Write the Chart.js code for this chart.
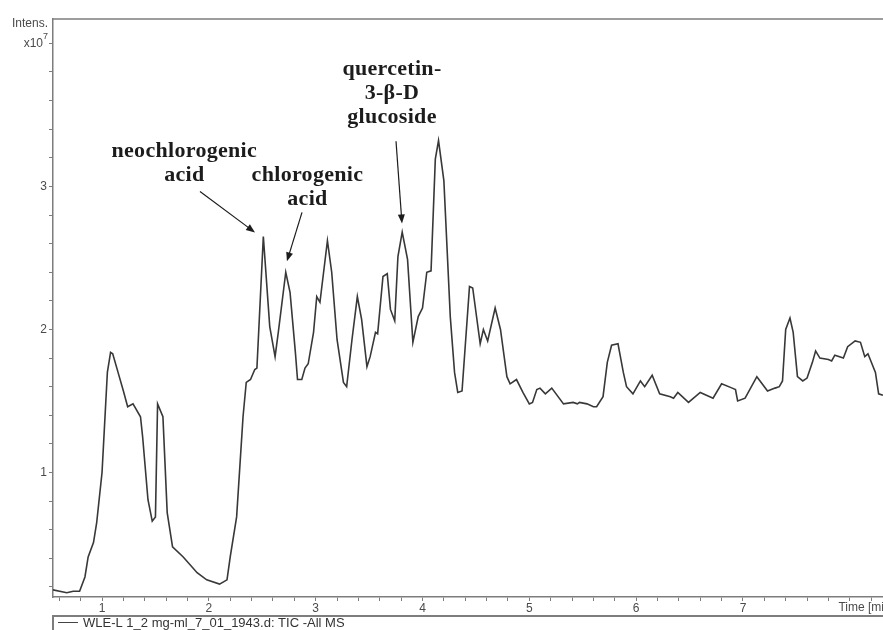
<!DOCTYPE html>
<html>
<head>
<meta charset="utf-8">
<title>TIC - All MS</title>
<script src="https://cdn.jsdelivr.net/npm/chart.js@4.4.1/dist/chart.umd.min.js"></script>
<style>
  html, body { margin: 0; padding: 0; background: #fff; overflow: hidden; }
  #wrap { width: 905px; height: 630px; }
</style>
</head>
<body>
<div id="wrap"><canvas id="tic" width="905" height="630"></canvas></div>
<script>
// ── TIC chromatogram, WLE-L 1.2 mg/ml ──

// retention time (min)
const timeMin = [
  0.54, 0.67, 0.73, 0.79, 0.84, 0.87, 0.92, 0.95, 1.00, 1.05,
  1.08, 1.10, 1.15, 1.20, 1.24, 1.29, 1.36, 1.38, 1.43, 1.47,
  1.50, 1.52, 1.57, 1.61, 1.66, 1.76, 1.89, 1.98, 2.10, 2.17,
  2.20, 2.26, 2.32, 2.35, 2.39, 2.43, 2.45, 2.51, 2.57, 2.62,
  2.65, 2.72, 2.76, 2.81, 2.83, 2.87, 2.90, 2.93, 2.98, 3.01,
  3.04, 3.11, 3.15, 3.20, 3.26, 3.29, 3.34, 3.39, 3.43, 3.48,
  3.51, 3.56, 3.58, 3.63, 3.67, 3.70, 3.74, 3.77, 3.81, 3.86,
  3.91, 3.96, 4.00, 4.04, 4.08, 4.12, 4.15, 4.20, 4.26, 4.30,
  4.33, 4.37, 4.44, 4.47, 4.54, 4.57, 4.61, 4.68, 4.73, 4.79,
  4.82, 4.88, 4.94, 5.00, 5.03, 5.07, 5.10, 5.15, 5.21, 5.32,
  5.41, 5.45, 5.47, 5.54, 5.60, 5.63, 5.69, 5.73, 5.77, 5.83,
  5.88, 5.91, 5.97, 6.04, 6.08, 6.15, 6.22, 6.32, 6.35, 6.39,
  6.49, 6.60, 6.72, 6.80, 6.90, 6.93, 6.95, 7.02, 7.13, 7.23,
  7.30, 7.34, 7.37, 7.40, 7.44, 7.47, 7.51, 7.56, 7.60, 7.65,
  7.68, 7.72, 7.80, 7.83, 7.86, 7.94, 7.98, 8.05, 8.10, 8.14,
  8.17, 8.24, 8.27, 8.31
];

// intensity (x10^7)
const intensity = [
  0.18, 0.16, 0.17, 0.17, 0.27, 0.41, 0.51, 0.65, 1.00, 1.70,
  1.84, 1.83, 1.70, 1.57, 1.46, 1.48, 1.39, 1.25, 0.81, 0.66,
  0.69, 1.48, 1.39, 0.72, 0.48, 0.41, 0.30, 0.25, 0.22, 0.25,
  0.41, 0.69, 1.39, 1.63, 1.65, 1.72, 1.73, 2.65, 2.02, 1.81,
  1.98, 2.40, 2.26, 1.84, 1.65, 1.65, 1.73, 1.76, 1.98, 2.23,
  2.19, 2.62, 2.40, 1.93, 1.63, 1.60, 1.93, 2.23, 2.07, 1.74,
  1.81, 1.98, 1.97, 2.37, 2.39, 2.14, 2.06, 2.51, 2.68, 2.49,
  1.91, 2.09, 2.15, 2.40, 2.41, 3.19, 3.32, 3.04, 2.09, 1.70,
  1.56, 1.57, 2.30, 2.29, 1.90, 2.00, 1.92, 2.15, 2.00, 1.67,
  1.62, 1.65, 1.56, 1.48, 1.49, 1.58, 1.59, 1.55, 1.59, 1.48,
  1.49, 1.48, 1.49, 1.48, 1.46, 1.46, 1.53, 1.77, 1.89, 1.90,
  1.70, 1.60, 1.55, 1.64, 1.60, 1.68, 1.55, 1.53, 1.52, 1.56,
  1.49, 1.56, 1.52, 1.62, 1.59, 1.58, 1.50, 1.52, 1.67, 1.57,
  1.59, 1.60, 1.64, 2.00, 2.08, 1.98, 1.67, 1.64, 1.66, 1.77,
  1.85, 1.80, 1.79, 1.78, 1.82, 1.80, 1.88, 1.92, 1.91, 1.81,
  1.83, 1.70, 1.55, 1.54
];

const traceName = 'WLE-L 1_2 mg-ml_7_01_1943.d: TIC -All MS';
const xTickLabels = [1, 2, 3, 4, 5, 6, 7];   // 8 is left out, "Time [min]" sits there
const yTickLabels = [1, 2, 3];               // 4 is replaced by the x10^7 unit

// peak labels (text centre / arrow ends in min, x10^7)
const peakNotes = [
  { lines: ['neochlorogenic', 'acid'],          at: [1.77, 3.245], from: [1.917, 2.965], to: [2.432, 2.678] },
  { lines: ['chlorogenic', 'acid'],             at: [2.923, 3.077], from: [2.872, 2.818], to: [2.731, 2.476] },
  { lines: ['quercetin-', '3-β-D', 'glucoside'], at: [3.714, 3.818], from: [3.752, 3.315], to: [3.808, 2.741] }
];

const GREY = '#7d7d7d';
const TXT = '#4a4a4a';

Chart.defaults.font.family = '"Liberation Sans", Arial, sans-serif';

const isWhole = (v, list) => list.some(n => Math.abs(v - n) < 1e-6);

// frame, unit labels, legend box and peak notes
const decor = {
  id: 'decor',
  beforeDatasetsDraw(chart) {
    const { ctx, chartArea: a } = chart;
    ctx.save();
    ctx.strokeStyle = GREY;
    ctx.lineWidth = 1.5;
    ctx.beginPath();
    ctx.moveTo(a.left, a.top);
    ctx.lineTo(a.right, a.top);
    ctx.lineTo(a.right, a.bottom);
    ctx.stroke();
    ctx.restore();
  },
  afterDraw(chart) {
    const { ctx, chartArea: a, scales: { x, y } } = chart;
    ctx.save();

    // unit on the y axis
    ctx.fillStyle = TXT;
    ctx.textBaseline = 'middle';
    ctx.textAlign = 'right';
    ctx.font = '12px "Liberation Sans", Arial, sans-serif';
    ctx.fillText('Intens.', a.left - 5, 24);
    const y4 = y.getPixelForValue(4);
    ctx.fillText('x10', a.left - 10, y4);
    ctx.textAlign = 'left';
    ctx.font = '9px "Liberation Sans", Arial, sans-serif';
    ctx.fillText('7', a.left - 10, y4 - 7);

    // time label at the end of the x axis
    ctx.font = '12px "Liberation Sans", Arial, sans-serif';
    ctx.textAlign = 'right';
    ctx.fillText('Time [min]', a.right - 6, a.bottom + 11);

    // legend box
    ctx.strokeStyle = GREY;
    ctx.lineWidth = 2;
    ctx.strokeRect(a.left, 616, chart.width, 30);
    ctx.strokeStyle = '#444';
    ctx.lineWidth = 1;
    ctx.beginPath();
    ctx.moveTo(a.left + 5, 622.5);
    ctx.lineTo(a.left + 25, 622.5);
    ctx.stroke();
    ctx.fillStyle = '#333';
    ctx.textAlign = 'left';
    ctx.textBaseline = 'alphabetic';
    ctx.font = '13px "Liberation Sans", Arial, sans-serif';
    ctx.fillText(traceName, a.left + 30, 627);

    // peak notes
    ctx.fillStyle = '#1c1c1c';
    ctx.strokeStyle = '#1c1c1c';
    ctx.textAlign = 'center';
    ctx.textBaseline = 'middle';
    ctx.font = 'bold 22px "Liberation Serif", "Times New Roman", serif';
    ctx.letterSpacing = '0.3px';
    peakNotes.forEach(n => {
      const cx = x.getPixelForValue(n.at[0]);
      const cy = y.getPixelForValue(n.at[1]);
      n.lines.forEach((s, i) => ctx.fillText(s, cx, cy + i * 24));

      const x0 = x.getPixelForValue(n.from[0]), y0 = y.getPixelForValue(n.from[1]);
      const x1 = x.getPixelForValue(n.to[0]), y1 = y.getPixelForValue(n.to[1]);
      const ang = Math.atan2(y1 - y0, x1 - x0);
      ctx.lineWidth = 1.2;
      ctx.beginPath();
      ctx.moveTo(x0, y0);
      ctx.lineTo(x1 - 6 * Math.cos(ang), y1 - 6 * Math.sin(ang));
      ctx.stroke();
      ctx.beginPath();
      ctx.moveTo(x1, y1);
      ctx.lineTo(x1 - 9 * Math.cos(ang) + 3.5 * Math.sin(ang), y1 - 9 * Math.sin(ang) - 3.5 * Math.cos(ang));
      ctx.lineTo(x1 - 9 * Math.cos(ang) - 3.5 * Math.sin(ang), y1 - 9 * Math.sin(ang) + 3.5 * Math.cos(ang));
      ctx.closePath();
      ctx.fill();
    });
    ctx.restore();
  }
};

new Chart(document.getElementById('tic'), {
  type: 'line',
  data: {
    datasets: [{
      label: traceName,
      data: timeMin.map((t, i) => ({ x: t, y: intensity[i] })),
      borderColor: '#383838',
      borderWidth: 1.6,
      pointRadius: 0,
      tension: 0,
      fill: false
    }]
  },
  options: {
    responsive: false,
    animation: false,
    layout: { padding: { left: 0, top: 19, right: 5, bottom: 15 } },
    plugins: { legend: { display: false }, tooltip: { enabled: false } },
    scales: {
      x: {
        type: 'linear',
        min: 0.541,
        max: 8.47,
        afterFit: s => { s.height = 18; },
        border: { color: GREY, width: 1.5 },
        grid: { drawOnChartArea: false, drawTicks: true, tickLength: 4, color: GREY },
        ticks: {
          stepSize: 0.2,
          includeBounds: false,
          autoSkip: false,
          maxRotation: 0,
          padding: 0,
          color: TXT,
          font: { size: 12 },
          callback: v => isWhole(v, xTickLabels) ? String(Math.round(v)) : ''
        }
      },
      y: {
        min: 0.13,
        max: 4.17,
        afterFit: s => { s.width = 53; },
        border: { color: GREY, width: 1.5 },
        grid: { drawOnChartArea: false, drawTicks: true, tickLength: 4, color: GREY },
        ticks: {
          stepSize: 0.2,
          includeBounds: false,
          padding: 2,
          color: TXT,
          font: { size: 12 },
          callback: v => isWhole(v, yTickLabels) ? String(Math.round(v)) : ''
        }
      }
    }
  },
  plugins: [decor]
});
</script>
</body>
</html>
